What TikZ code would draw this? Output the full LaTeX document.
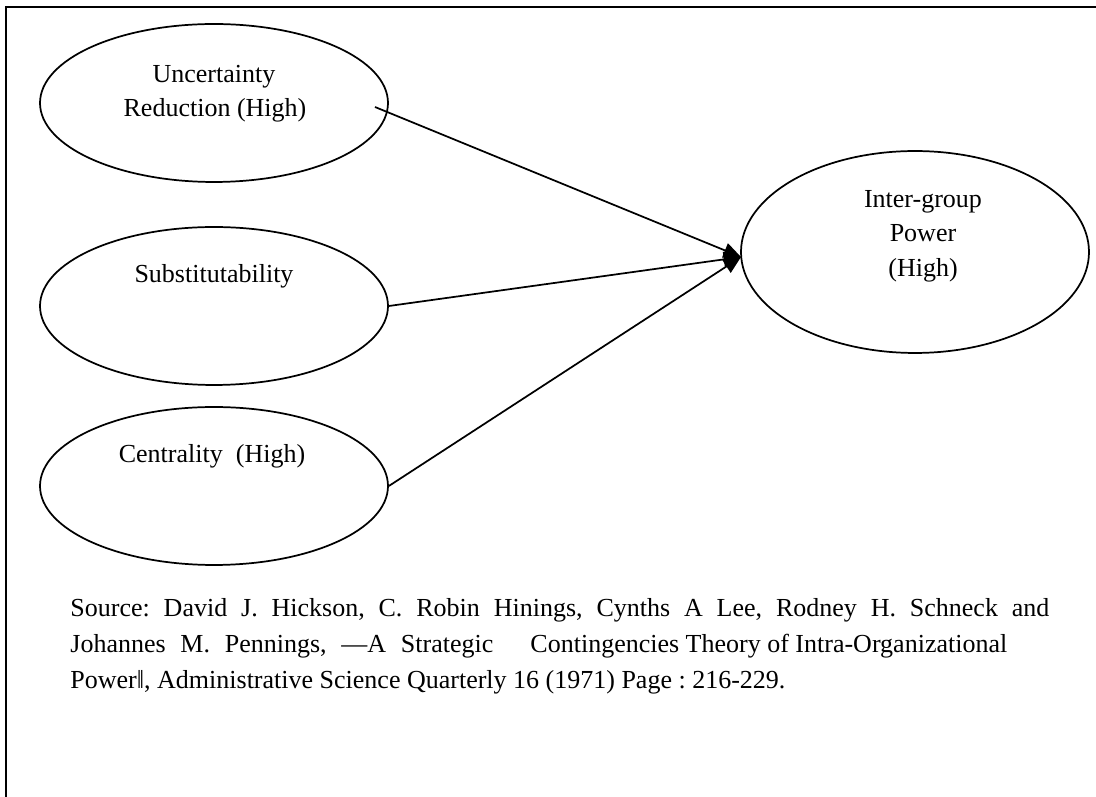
\documentclass[tikz,border=0pt]{standalone}
\usepackage{fontspec}
\setmainfont{Liberation Serif}
\usetikzlibrary{shapes.geometric,arrows.meta}
\frenchspacing

\tikzset{
  blob/.style={draw, ellipse, line width=0.8pt, minimum width=160.6pt, minimum height=72.9pt, inner sep=0pt},
  bigblob/.style={blob, minimum height=93.2pt},
  link/.style={line width=0.8pt, -{Triangle[length=8pt,width=7pt]}},
  src/.style={anchor=base west, inner sep=0pt},
}

\begin{document}
\begin{tikzpicture}[x=0.4615pt, y=-0.4615pt, font=\fontsize{12}{14}\selectfont]
\useasboundingbox (0,0) rectangle (1096,797);
\draw[line width=1.1pt] (6,797) -- (6,7) -- (1096,7);

\node[blob] (unc) at (214,103) {};
\node[blob] (sub) at (214,306) {};
\node[blob] (cen) at (214,486) {};
\node[bigblob] (pow) at (915,252) {};

\node[anchor=base] (unc1) at (214,83) {Uncertainty};
\node[anchor=base] (unc2) at (215,117) {Reduction (High)};
\node[anchor=base] (sub1) at (214,283) {Substitutability};
\node[anchor=base] (cen1) at (212,463) {Centrality\ \ (High)};
\node[anchor=base] (pow1) at (923,208) {Inter-group};
\node[anchor=base] (pow2) at (923,242) {Power};
\node[anchor=base] (pow3) at (923,277) {(High)};

\coordinate (tip) at (741,257);
\coordinate (uncout) at (375,107);
\draw[link] (uncout) -- (tip);
\draw[link] (sub.east) -- (tip);
\draw[link] (cen.east) -- (tip);

\node[src] (src1) at (70,617) {\makebox[451.8pt][s]{Source: David J. Hickson, C. Robin Hinings, Cynths A Lee, Rodney H. Schneck and}};
\node[src] (src2) at (70,653) {\makebox[195.2pt][s]{Johannes M. Pennings, ―A Strategic}\hspace{17.1pt}Contingencies Theory of Intra-Organizational};
\node[src] (src3) at (70,689) {Power‖, Administrative Science Quarterly 16 (1971) Page : 216-229.};
\end{tikzpicture}
\end{document}
